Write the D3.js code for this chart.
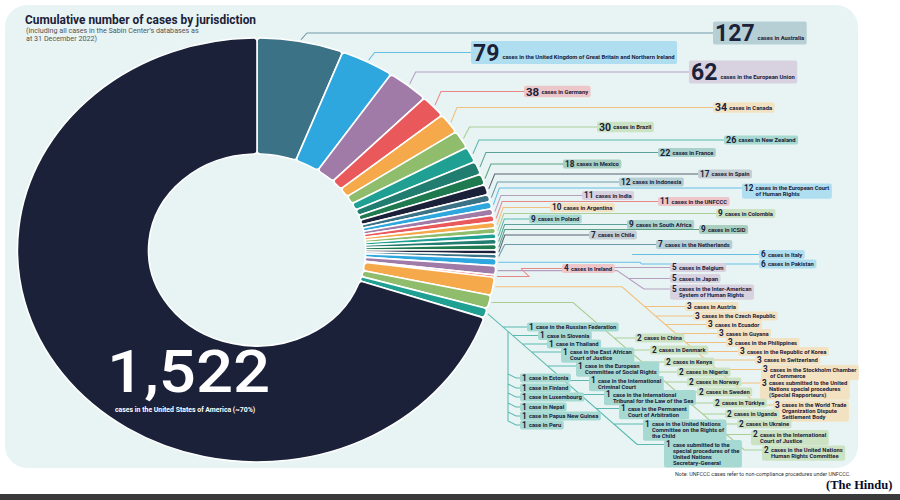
<!DOCTYPE html>
<html>
<head>
<meta charset="utf-8">
<script src="https://cdn.jsdelivr.net/npm/d3@7"></script>
<style>
  body { margin: 0; background: #fff; }
  svg { display: block; font-family: Roboto, "Noto Sans", sans-serif; }
</style>
</head>
<body>
<div id="chart"></div>
<script>
// cases in the USA, drawn as the big dark slice
const usCases = 1522;

// the other jurisdictions, text after the number ("|" = line break)
const labels = [
  "cases in Australia",
  "cases in the United Kingdom of Great Britain and Northern Ireland",
  "cases in the European Union",
  "cases in Germany",
  "cases in Canada",
  "cases in Brazil",
  "cases in New Zealand",
  "cases in France",
  "cases in Mexico",
  "cases in Spain",
  "cases in Indonesia",
  "cases in the European Court|of Human Rights",
  "cases in India",
  "cases in the UNFCCC",
  "cases in Argentina",
  "cases in Colombia",
  "cases in Poland",
  "cases in South Africa",
  "cases in ICSID",
  "cases in Chile",
  "cases in the Netherlands",
  "cases in Italy",
  "cases in Pakistan",
  "cases in Belgium",
  "cases in Japan",
  "cases in the Inter-American|System of Human Rights",
  "cases in Ireland",
  "cases in Austria",
  "cases in the Czech Republic",
  "cases in Ecuador",
  "cases in Guyana",
  "cases in the Philippines",
  "cases in the Republic of Korea",
  "cases in Switzerland",
  "cases in the Stockholm Chamber|of Commerce",
  "cases submitted to the United|Nations special procedures|(Special Rapporteurs)",
  "cases in the World Trade|Organization Dispute|Settlement Body",
  "cases in China",
  "cases in Denmark",
  "cases in Kenya",
  "cases in Nigeria",
  "cases in Norway",
  "cases in Sweden",
  "cases in Türkiye",
  "cases in Uganda",
  "cases in Ukraine",
  "cases in the International|Court of Justice",
  "cases in the United Nations|Human Rights Committee",
  "case in the Russian Federation",
  "case in Slovenia",
  "case in Thailand",
  "case in the East African|Court of Justice",
  "case in the European|Committee of Social Rights",
  "case in the International|Criminal Court",
  "case in the International|Tribunal for the Law of the Sea",
  "case in the Permanent|Court of Arbitration",
  "case in the United Nations|Committee on the Rights of|the Child",
  "case submitted to the|special procedures of the|United Nations|Secretary-General",
  "case in Estonia",
  "case in Finland",
  "case in Luxembourg",
  "case in Nepal",
  "case in Papua New Guinea",
  "case in Peru"
];

const counts = [
  127, 79, 62, 38, 34, 30, 26, 22, 18, 17, 12, 12, 11, 11, 10, 9, 9, 9, 9, 7, 7,
  6, 6, 5, 5, 5, 4,
  3, 3, 3, 3, 3, 3, 3, 3, 3, 3,
  2, 2, 2, 2, 2, 2, 2, 2, 2, 2, 2,
  1, 1, 1, 1, 1, 1, 1, 1, 1, 1, 1, 1, 1, 1, 1, 1
];

// label box position: left x, centre y of first line ("v" = hangs off the vertical stem)
const labelPos = [
  [713, 33], [471, 52.5], [689, 72], [524, 91.5], [713, 107.5], [597, 127],
  [724, 140], [658, 152.5], [563, 164], [698, 174], [619, 182], [742, 188],
  [582, 195.5], [658, 201.5], [550, 207.5], [716, 213.5], [529, 219], [627, 224.5],
  [699, 229.5], [589, 235], [656, 244.5],
  [759, 254.5], [759, 264], [670, 267.5], [670, 278.5], [670, 289], [562, 268.5],
  [685, 306.5], [693, 316], [706, 324.5], [717, 333.5], [726, 342.5], [738, 351.5],
  [755, 360], [761, 369.5], [760, 383], [773, 405],
  [635, 338], [650, 350], [664, 362], [677, 372], [687, 382], [697, 392],
  [713, 403], [725, 414], [737, 424], [751, 434.5], [762, 450],
  [527, 327], [538, 335.5], [547, 344], [561, 352], [576, 366], [589, 380.5],
  [604, 394.5], [619, 408.5], [643, 424], [664, 444.5],
  [520, 378, "v"], [520, 388, "v"], [520, 397, "v"], [520, 407, "v"], [520, 416, "v"], [520, 425, "v"]
];

// leader for the grouped small slices: knee x, slope of the diagonal
const groupLeader = {6: [640, 1], 5: [617, 0.68], 4: [529, 1], 3: [622, 0.87], 2: [573, 0.86], 1: [null, 0.875]};

const palette = ["#3b7285", "#2ea7df", "#a07ba7", "#e9595b", "#f6a94b", "#8fbd6b", "#1fa092", "#207d70", "#1f7a4f", "#1b2139"];
const boxPalette = ["#b5cfd5", "#afdef0", "#d8d1e0", "#edc6ca", "#f3e2c2", "#cce3c3", "#a6d9d2", "#a8d2cb", "#a8cfbf", "#c3cfd5"];
const bg = "#e8f4f4";
const ink = "#1b2139";

const width = 900, height = 500;
const cx = 257, cy0 = 250, rOut = 212, rIn = 96, sx = 1.13;

const svg = d3.select("#chart").append("svg")
    .attr("width", width)
    .attr("height", height);

// card
svg.append("rect")
    .attr("x", 5).attr("y", 5)
    .attr("width", 853).attr("height", 463)
    .attr("rx", 22)
    .attr("fill", bg);

svg.append("rect")
    .attr("x", 0).attr("y", 494)
    .attr("width", width).attr("height", 6)
    .attr("fill", "#3a3a3a");

// titles
svg.append("text")
    .attr("x", 25).attr("y", 23.5)
    .attr("font-size", 11.9).attr("font-weight", 700).attr("fill", ink)
    .text("Cumulative number of cases by jurisdiction");
svg.append("text")
    .attr("x", 26).attr("y", 33.2)
    .attr("font-size", 7.2).attr("fill", "#555")
    .text("(including all cases in the Sabin Center\u2019s databases as");
svg.append("text")
    .attr("x", 26).attr("y", 41.2)
    .attr("font-size", 7.2).attr("fill", "#555")
    .text("at 31 December 2022)");

// build slices: big ones alone, small counts (<= 6) grouped by value
const slices = [];
counts.forEach((v, i) => {
  if (v > 6) {
    slices.push({value: v, members: [i], group: null});
  } else {
    let g = slices.find(s => s.group === v);
    if (!g) { g = {value: 0, members: [], group: v}; slices.push(g); }
    g.value += v;
    g.members.push(i);
  }
});
slices.push({value: usCases, members: [], group: null, us: true});

const pie = d3.pie().sort(null).value(d => d.value);
const arcs = pie(slices);
const arc = d3.arc().innerRadius(rIn).outerRadius(rOut).cornerRadius(3);

const sliceOf = [];
arcs.forEach((a, k) => a.data.members.forEach(m => sliceOf[m] = k));

const pt = (a, r) => [cx + sx * r * Math.sin(a), cy0 - r * Math.cos(a)];

// leader lines
const leaders = svg.append("g").attr("fill", "none").attr("stroke-width", 1.05);
arcs.forEach((a, k) => {
  if (a.data.us) return;
  const col = d3.interpolateRgb(palette[k % 10], bg)(0.3);
  const mid = (a.startAngle + a.endAngle) / 2;
  const s = pt(mid, rOut + 2);
  if (a.data.group === null) {
    const i = a.data.members[0];
    const [bx, ly] = labelPos[i];
    leaders.append("path")
        .attr("stroke", col)
        .attr("d", `M${s[0]},${s[1]}L${s[0] + 6},${ly}H${bx}`);
    return;
  }
  const [kx, slope] = groupLeader[a.data.group];
  const kneeX = kx === null ? s[0] : kx;
  const kneeY = s[1];
  const diagX = y => kneeX + (y - kneeY) / slope;
  const side = a.data.members.filter(m => labelPos[m][2] !== "v");
  const stem = a.data.members.filter(m => labelPos[m][2] === "v");
  const maxY = d3.max(side, m => labelPos[m][1]);
  let d = `M${s[0]},${s[1]}H${kneeX}L${diagX(maxY)},${maxY}`;
  side.forEach(m => {
    const [bx, ly] = labelPos[m];
    d += `M${diagX(ly)},${ly}H${bx}`;
  });
  if (stem.length) {
    const vx = 508;
    const vy0 = kneeY + (vx - kneeX) * slope;
    const vMax = d3.max(stem, m => labelPos[m][1]);
    d += `M${vx},${vy0}V${vMax - 4}`;
    stem.forEach(m => {
      const [bx, ly] = labelPos[m];
      d += `M${vx},${ly - 4}L${vx + 8},${ly}H${bx}`;
    });
  }
  leaders.append("path").attr("stroke", col).attr("d", d);
});

// donut, stretched sideways like the original artwork
svg.append("g")
    .attr("transform", `translate(${cx},${cy0}) scale(${sx},1)`)
  .selectAll("path")
  .data(arcs)
  .join("path")
    .attr("d", arc)
    .attr("fill", (d, k) => d.data.us ? "#1b2139" : palette[k % 10])
    .attr("stroke", "#fff")
    .attr("stroke-width", 1.6)
    .attr("vector-effect", "non-scaling-stroke");

// USA label, widened like the rest of the artwork
svg.append("text")
    .attr("transform", "translate(107,392) scale(1.09,1)")
    .attr("font-size", 60).attr("font-weight", 500).attr("fill", "#fff")
    .text(d3.format(",")(usCases));
svg.append("text")
    .attr("x", 115).attr("y", 411.5)
    .attr("font-size", 6.9).attr("font-weight", 700).attr("fill", "#fff")
    .text("cases in the United States of America (~70%)");

// label boxes
const fsScale = d3.scaleThreshold().domain([20, 29, 35, 60]).range([8.2, 9, 10.5, 11.5, 23]);
const labelG = svg.append("g");
labels.forEach((txt, i) => {
  const [bx, ly] = labelPos[i];
  const fs = fsScale(counts[i]);
  const lines = txt.split("|");
  const g = labelG.append("g");
  const rect = g.append("rect");
  const num = g.append("text")
      .attr("x", bx + 2).attr("y", ly + fs * 0.36)
      .attr("font-size", fs).attr("font-weight", 700).attr("fill", ink)
      .text(counts[i]);
  const nw = num.node().getComputedTextLength();
  const tx = bx + 2 + nw + (fs > 15 ? 3 : 2.2);
  const tb = ly + Math.max(2, fs * 0.36 - 1.5);
  let maxW = 0;
  lines.forEach((ln, k) => {
    const t = g.append("text")
        .attr("x", tx).attr("y", tb + k * 6.1)
        .attr("font-size", 5.85).attr("font-weight", 700).attr("fill", ink)
        .text(ln);
    maxW = Math.max(maxW, t.node().getComputedTextLength());
  });
  const half = Math.max(4.6, fs * 0.5);
  const top = ly - half;
  const bottom = Math.max(ly + half, tb + (lines.length - 1) * 6.1 + 2.6);
  rect.attr("x", bx).attr("y", top)
      .attr("width", tx + maxW + 2.5 - bx).attr("height", bottom - top)
      .attr("rx", 2)
      .attr("fill", boxPalette[sliceOf[i] % 10]);
});

// footnote and source
svg.append("text")
    .attr("x", 675).attr("y", 476)
    .attr("font-size", 5.4).attr("fill", "#333")
    .text("Note: UNFCCC cases refer to non-compliance procedures under UNFCCC.");
svg.append("text")
    .attr("x", 826).attr("y", 489)
    .attr("font-family", "'Liberation Serif', 'DejaVu Serif', serif")
    .attr("font-size", 12.5).attr("font-weight", 700).attr("fill", "#0a0a2a")
    .text("(The Hindu)");
</script>
</body>
</html>
